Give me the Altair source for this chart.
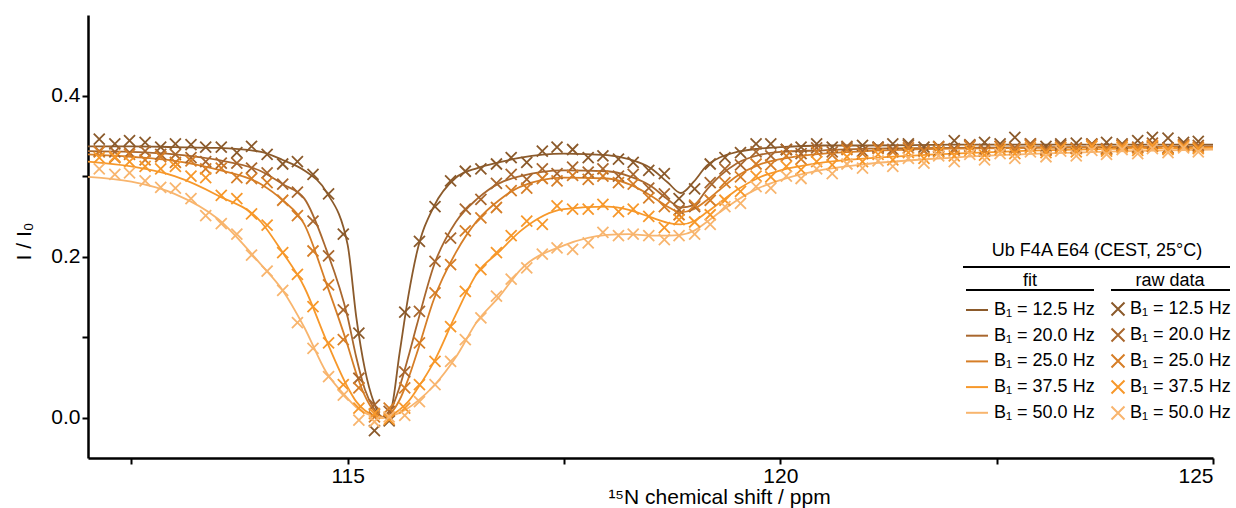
import altair as alt
import pandas as pd

FONT = "Liberation Sans"

labels = ["B₁ = 12.5 Hz", "B₁ = 20.0 Hz", "B₁ = 25.0 Hz", "B₁ = 37.5 Hz", "B₁ = 50.0 Hz"]
colors = ["#8B5A2B", "#A9672E", "#D67E27", "#F7982A", "#F8B56E"]
legend_title = "Ub F4A E64 (CEST, 25°C)"

# raw data: chemical shift positions (ppm)
raw_x = [112.13, 112.31, 112.48, 112.66, 112.84, 113.01, 113.19, 113.36, 113.54, 113.72,
         113.89, 114.07, 114.25, 114.42, 114.60, 114.78, 114.95, 115.13, 115.31, 115.48,
         115.66, 115.83, 116.01, 116.19, 116.36, 116.54, 116.72, 116.89, 117.07, 117.25,
         117.42, 117.60, 117.78, 117.95, 118.13, 118.30, 118.48, 118.66, 118.83, 119.01,
         119.19, 119.36, 119.54, 119.72, 119.89, 120.07, 120.24, 120.42, 120.60, 120.77,
         120.95, 121.13, 121.30, 121.48, 121.66, 121.83, 122.01, 122.19, 122.36, 122.54,
         122.71, 122.89, 123.07, 123.24, 123.42, 123.60, 123.77, 123.95, 124.13, 124.30,
         124.48, 124.66, 124.83]

raw_125 = [.346, .340, .344, .342, .336, .340, .339, .336, .336, .329,
           .337, .327, .315, .318, .302, .278, .228, .105, -.016, -.004,
           .131, .219, .262, .294, .306, .309, .315, .323, .317, .331,
           .336, .333, .323, .325, .321, .317, .307, .303, .272, .284,
           .315, .323, .329, .340, .340, .333, .336, .340, .336, .335,
           .338, .336, .340, .340, .336, .331, .344, .338, .342, .340,
           .348, .340, .337, .340, .341, .340, .342, .340, .344, .348,
           .347, .342, .343]
raw_200 = [.331, .330, .329, .331, .327, .327, .323, .318, .316, .316,
           .310, .304, .290, .280, .244, .201, .134, .049, .016, .008,
           .057, .132, .194, .223, .259, .271, .291, .302, .296, .309,
           .303, .311, .305, .309, .300, .302, .285, .278, .258, .262,
           .292, .309, .314, .330, .325, .333, .328, .335, .330, .337,
           .331, .336, .333, .338, .332, .337, .334, .339, .333, .337,
           .335, .340, .333, .338, .335, .339, .334, .338, .336, .341,
           .335, .339, .338]
raw_250 = [.330, .323, .327, .320, .324, .317, .319, .309, .310, .298,
           .297, .292, .270, .251, .207, .165, .097, .037, .001, .012,
           .037, .093, .155, .190, .232, .248, .261, .282, .285, .297,
           .294, .301, .296, .300, .292, .290, .273, .262, .252, .264,
           .270, .292, .299, .315, .314, .325, .321, .330, .326, .333,
           .328, .334, .330, .335, .331, .336, .332, .337, .331, .337,
           .333, .338, .332, .336, .334, .339, .333, .338, .335, .337,
           .334, .338, .336]
raw_375 = [.323, .324, .318, .312, .309, .312, .300, .298, .276, .272,
           .253, .239, .205, .178, .138, .093, .041, .012, .005, -.002,
           .012, .041, .070, .113, .157, .184, .205, .226, .244, .240,
           .263, .259, .259, .265, .256, .259, .250, .236, .246, .243,
           .252, .270, .281, .300, .299, .312, .308, .318, .314, .324,
           .318, .327, .320, .329, .322, .330, .325, .332, .326, .333,
           .328, .335, .329, .335, .330, .337, .331, .336, .332, .338,
           .333, .337, .334]
raw_500 = [.309, .302, .304, .294, .286, .285, .272, .251, .241, .228,
           .202, .182, .158, .118, .086, .051, .028, -.003, -.005, .001,
           .003, .020, .041, .070, .097, .124, .151, .172, .186, .203,
           .211, .209, .217, .230, .226, .228, .226, .221, .226, .228,
           .240, .262, .266, .287, .285, .300, .297, .309, .303, .315,
           .310, .319, .312, .322, .316, .325, .318, .327, .320, .328,
           .322, .330, .324, .331, .325, .332, .327, .333, .328, .334,
           .329, .335, .330]

# fitted curves
fit_x = [112.0, 112.5, 113.0, 113.5, 114.0, 114.25, 114.5, 114.75, 115.0, 115.1,
         115.2, 115.3, 115.4, 115.5, 115.6, 115.7, 115.8, 116.0, 116.25, 116.5,
         116.75, 117.0, 117.5, 118.0, 118.25, 118.5, 118.7, 118.85, 119.0, 119.15,
         119.3, 119.5, 119.75, 120.0, 120.5, 121.0, 122.0, 123.0, 124.0, 125.0]
fit_125 = [.337, .337, .336, .335, .330, .320, .307, .281, .215, .125,
           .060, .020, .001, .010, .080, .150, .205, .263, .298, .310,
           .317, .323, .328, .326, .321, .310, .292, .279, .293, .313,
           .323, .330, .334, .336, .338, .338, .339, .339, .339, .339]
fit_200 = [.331, .330, .327, .320, .306, .290, .272, .210, .125, .075,
           .035, .012, .001, .010, .038, .075, .115, .190, .243, .272,
           .291, .300, .307, .306, .300, .288, .271, .261, .264, .283,
           .300, .316, .326, .330, .332, .334, .335, .336, .336, .337]
fit_250 = [.327, .324, .319, .308, .290, .270, .240, .168, .090, .055,
           .027, .009, .001, .006, .022, .048, .080, .148, .205, .245,
           .270, .287, .298, .297, .290, .276, .262, .255, .259, .270,
           .283, .300, .314, .321, .328, .331, .334, .335, .336, .336]
fit_375 = [.318, .312, .300, .276, .243, .205, .162, .097, .038, .020,
           .009, .003, .000, .003, .010, .020, .035, .070, .128, .180,
           .206, .232, .259, .262, .258, .249, .242, .240, .244, .255,
           .267, .283, .298, .307, .317, .322, .328, .332, .334, .335]
fit_500 = [.299, .293, .278, .247, .190, .158, .112, .057, .024, .013,
           .006, .002, .000, .002, .006, .012, .020, .040, .075, .120,
           .150, .184, .214, .227, .228, .226, .226, .227, .232, .243,
           .255, .270, .285, .295, .308, .315, .323, .328, .331, .333]

raw_sets = [raw_125, raw_200, raw_250, raw_375, raw_500]
fit_sets = [fit_125, fit_200, fit_250, fit_375, fit_500]

raw_df = pd.DataFrame(
    [{"ppm": x, "I": v, "B1": lab, "order": i}
     for i, (lab, ys) in enumerate(zip(labels, raw_sets)) for x, v in zip(raw_x, ys)]
)
fit_df = pd.DataFrame(
    [{"ppm": x, "I": v, "B1": lab, "order": i}
     for i, (lab, ys) in enumerate(zip(labels, fit_sets)) for x, v in zip(fit_x, ys)]
)

CROSS = "M-1,-1L1,1M1,-1L-1,1"

xscale = alt.Scale(domain=[112, 125], nice=False, zero=False)
yscale = alt.Scale(domain=[-0.05, 0.5], nice=False, zero=False)

x_axis = alt.Axis(
    values=[112.5, 115, 117.5, 120, 122.5, 125],
    labelExpr="datum.value % 5 == 0 ? format(datum.value, 'd') : ''",
    title="¹⁵N chemical shift / ppm",
    titleX=631, titleY=45, titleBaseline="alphabetic", titleAlign="center",
    labelPadding=1,
)
y_axis = alt.Axis(
    values=[0, 0.1, 0.2, 0.3, 0.4],
    format=".1f",
    labelExpr="round(datum.value * 10) % 2 == 1 ? '' : datum.label",
    title="I / I₀",
    titleX=-64, titleY=226, titleBaseline="middle", titleAlign="center", titleAngle=-90,
    labelPadding=2,
)

common_legend = dict(
    orient="none", titleAnchor="middle", titleFontSize=18, titleFontWeight="normal",
    titleFont=FONT, titleColor="black", labelFontSize=18, labelFont=FONT,
    labelColor="black", padding=0,
)

lines = alt.Chart(fit_df).mark_line(strokeWidth=1.8, interpolate="monotone").encode(
    x=alt.X("ppm:Q", scale=xscale, axis=x_axis),
    y=alt.Y("I:Q", scale=yscale, axis=y_axis),
    color=alt.Color(
        "B1:N",
        scale=alt.Scale(domain=labels, range=colors),
        legend=alt.Legend(
            title="fit", legendX=877, legendY=257, symbolType="stroke",
            symbolSize=484, symbolStrokeWidth=2, rowPadding=4.7, labelOffset=5,
            titlePadding=8, **common_legend,
        ),
    ),
    detail="B1:N",
    order=alt.Order("ppm:Q"),
)

points = alt.Chart(raw_df).mark_point(
    shape=CROSS, filled=False, size=121, strokeWidth=1.8, opacity=1
).encode(
    x=alt.X("ppm:Q", scale=xscale),
    y=alt.Y("I:Q", scale=yscale),
    color=alt.Color(
        "B1:N",
        scale=alt.Scale(domain=labels, range=colors),
        legend=alt.Legend(
            title="raw data", legendX=1021, legendY=257, symbolType=CROSS,
            symbolSize=169, symbolStrokeWidth=2, rowPadding=4, labelOffset=3,
            titlePadding=10, **common_legend,
        ),
    ),
    order=alt.Order("order:Q"),
)

one = pd.DataFrame({"t": [legend_title]})
title_text = alt.Chart(one).mark_text(
    font=FONT, fontSize=18, align="center", baseline="alphabetic", color="black"
).encode(x=alt.value(1009), y=alt.value(241), text="t:N")

rule_main = alt.Chart(one).mark_rule(color="black", strokeWidth=2).encode(
    x=alt.value(875), x2=alt.value(1142), y=alt.value(252))
rule_fit = alt.Chart(one).mark_rule(color="black", strokeWidth=2).encode(
    x=alt.value(878), x2=alt.value(1006), y=alt.value(275))
rule_raw = alt.Chart(one).mark_rule(color="black", strokeWidth=2).encode(
    x=alt.value(1023), x2=alt.value(1142), y=alt.value(275))

chart = alt.layer(lines, points, title_text, rule_main, rule_fit, rule_raw).resolve_scale(
    color="independent"
).properties(
    width=1125, height=443,
    autosize=alt.AutoSizeParams(type="none"),
    padding={"left": 88, "top": 15, "right": 23, "bottom": 50},
    background="white",
).configure_view(stroke=None).configure_axis(
    grid=False, domainColor="black", domainWidth=2.5, tickColor="black",
    tickWidth=2, tickSize=6, labelFont=FONT, labelFontSize=21, labelColor="black",
    titleFont=FONT, titleFontSize=21, titleFontWeight="normal", titleColor="black",
)

chart.save("out.html", embed_options={"renderer": "svg", "actions": False})
